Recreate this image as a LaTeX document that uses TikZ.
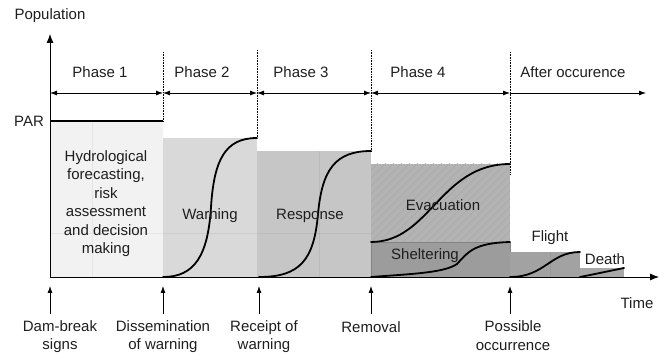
\documentclass[tikz,border=0pt]{standalone}
\usepackage{fontspec}
\setmainfont{Liberation Sans}
\usetikzlibrary{arrows.meta}
\definecolor{txt}{HTML}{1E1E1E}
\definecolor{fillA}{HTML}{F2F2F2}
\definecolor{fillB}{HTML}{D9D9D9}
\definecolor{fillC}{HTML}{C6C6C6}
\definecolor{fillD}{HTML}{B3B3B3}
\definecolor{hatchD}{HTML}{A9A9A9}
\definecolor{fillE}{HTML}{9C9C9C}
\definecolor{edgeE}{HTML}{848484}
\definecolor{fillF}{HTML}{A2A2A2}
\definecolor{fillG}{HTML}{A8A8A8}
\begin{document}
\begin{tikzpicture}[x=1pt,y=-1pt,
  font=\fontsize{15}{18.5}\selectfont,
  lbl/.style={inner sep=0pt, align=center, text=txt},
  curve/.style={line width=1.8pt, line cap=round},
  dotline/.style={densely dotted, line width=0.6pt},
  axis/.style={line width=0.8pt},
  span/.style={line width=0.8pt, {Latex[length=7pt,width=5pt]}-{Latex[length=7pt,width=5pt]}},
  spanend/.style={line width=0.8pt, -{Latex[length=7pt,width=5pt]}},
  evt/.style={line width=0.8pt, -{Latex[length=7pt,width=5pt]}},
  grid/.style={black, opacity=0.05, line width=0.8pt}]
\useasboundingbox (0,0) rectangle (664,355);

% ---- filled regions ----
\fill[fillA] (50,121) rectangle (163,277);
\fill[fillB] (163,138) rectangle (257,277);
\fill[fillC] (257,151) rectangle (371,277);
\fill[fillD] (371,164) rectangle (510,242);
\begin{scope}
  \clip (371,164) rectangle (510,242);
  \foreach \i in {0,8,...,224} \draw[hatchD, line width=0.6pt] (291+\i,242) -- (371+\i,162);
\end{scope}
\fill[fillE] (371,242) rectangle (510,277);
\draw[edgeE, line width=0.8pt] (371,242) rectangle (510,277);
\fill[fillF] (510,252) rectangle (580,277);
\fill[fillG] (580,268) rectangle (624,277);

% faint grid
\draw[grid] (50,233) -- (371,233);
\draw[grid] (92,121) -- (92,277);
\draw[grid] (319,151) -- (319,277);
\draw[grid] (550,252) -- (550,277);

% ---- dotted boundaries ----
\coordinate (d1t) at (163,52); \coordinate (d1b) at (163,121);
\coordinate (d2t) at (257,50); \coordinate (d2b) at (257,138);
\coordinate (d3t) at (371,50); \coordinate (d3b) at (371,151);
\coordinate (d4t) at (510,52); \coordinate (d4b) at (510,174);
\draw[dotline] (d1t) -- (d1b);
\draw[dotline] (d2t) -- (d2b);
\draw[dotline] (d3t) -- (d3b);
\draw[dotline] (d4t) -- (d4b);

% ---- PAR line ----
\coordinate (par0) at (50,121); \coordinate (par1) at (163,121);
\draw[line width=1.8pt] (par0) -- (par1);

% ---- curves ----
\draw[curve] (163,277) .. controls (195,277) and (208,255) .. (211,207)
                       .. controls (214,160) and (225,138) .. (257,138);
\draw[curve] (259,277) .. controls (300,277) and (314,260) .. (318,214)
                       .. controls (322,170) and (335,151) .. (371,151);
\draw[curve] (371,242) .. controls (430,242) and (440,164) .. (510,164);
\draw[curve] (371,277) .. controls (410,274) and (444,273) .. (457,264)
                       .. controls (468,252) and (474,243) .. (510,242);
\draw[curve] (510,277) .. controls (545,277) and (550,252) .. (580,252);
\draw[curve] (580,277) .. controls (595,274) .. (624,268);

% ---- axes ----
\coordinate (o) at (50,277);
\coordinate (ytop) at (50,34);
\coordinate (xend) at (659,277);
\draw[axis, -{Latex[length=9pt,width=7pt]}] (o) -- (ytop);
\draw[axis, -{Latex[length=9pt,width=7pt]}] (o) -- (xend);

% ---- phase spans ----
\coordinate (t0) at (50,93);
\coordinate (t1) at (163,93);
\coordinate (t2) at (257,93);
\coordinate (t3) at (371,93);
\coordinate (t4) at (510,93);
\coordinate (t5) at (646,93);
\draw[span] (t0) -- (t1);
\draw[span] (t1) -- (t2);
\draw[span] (t2) -- (t3);
\draw[span] (t3) -- (t4);
\draw[spanend] (t4) -- (t5);

% ---- event arrows ----
\foreach \n/\x in {a/50,b/163,c/259,d/371,e/510}{
  \coordinate (ev\n s) at (\x,314);
  \coordinate (ev\n e) at (\x,286);
  \draw[evt] (ev\n s) -- (ev\n e);
}

% ---- text ----
\node[lbl] (pop) at (50,16) {Population};
\node[lbl] (time) at (637,303) {Time};
\node[lbl] (par) at (29,121) {PAR};
\node[lbl] (ph1) at (100,72) {Phase 1};
\node[lbl] (ph2) at (202,72) {Phase 2};
\node[lbl] (ph3) at (301,72) {Phase 3};
\node[lbl] (ph4) at (418,72) {Phase 4};
\node[lbl] (ph5) at (573,72) {After occurence};
\node[lbl] (hyd) at (106,203.5) {Hydrological\\forecasting,\\risk\\assessment\\and decision\\making};
\node[lbl] (warn) at (210,216) {Warning};
\node[lbl] (resp) at (310,216) {Response};
\node[lbl] (evac) at (443,205) {Evacuation};
\node[lbl] (shel) at (425,256) {Sheltering};
\node[lbl] (fli) at (550,238) {Flight};
\node[lbl] (dea) at (605,259) {Death};
\node[lbl] (lbA) at (60,336.5) {Dam-break\\signs};
\node[lbl] (lbB) at (163,336.5) {Dissemination\\of warning};
\node[lbl] (lbC) at (264,336.5) {Receipt of\\warning};
\node[lbl] (lbD) at (371,327) {Removal};
\node[lbl] (lbE) at (513,335.5) {Possible\\occurrence};
\end{tikzpicture}
\end{document}
